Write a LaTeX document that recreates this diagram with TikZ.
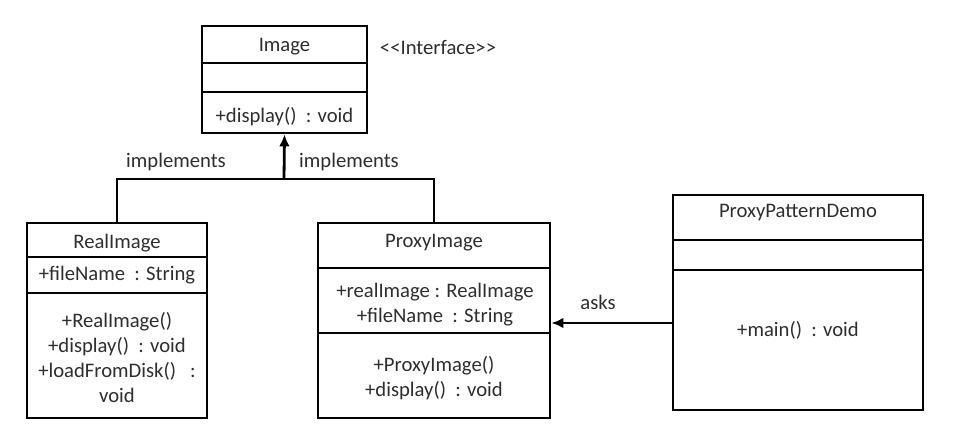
\documentclass[tikz,border=0pt]{standalone}
\usepackage{fontspec}
\setmainfont{Carlito}
\usetikzlibrary{arrows.meta}
\definecolor{txt}{HTML}{2E2E2E}
\begin{document}
\begin{tikzpicture}[x=0.75pt,y=-0.75pt,
  umlbox/.style={draw=black,line width=2.1pt,inner sep=0pt,fill=none},
  divider/.style={draw=black,line width=2.1pt},
  conn/.style={draw=black,line width=2.1pt},
  tip/.style={-{Latex[length=9pt,width=8pt]}},
  lbl/.style={text=txt,font=\fontsize{15.5}{18.75}\selectfont,inner sep=0pt,align=center}]
\useasboundingbox (0,0) rectangle (975,432);
% boxes
\node[umlbox,minimum width=123.75pt,minimum height=80.25pt] (img) at (284.5,79.5) {};
\node[umlbox,minimum width=135pt,minimum height=146.25pt] (real) at (117,320.5) {};
\node[umlbox,minimum width=174pt,minimum height=146.25pt] (proxy) at (434,320.5) {};
\node[umlbox,minimum width=187.5pt,minimum height=161.25pt] (demo) at (798,302.5) {};
% dividers
\coordinate (y63) at (0,63); \coordinate (y92) at (0,92);
\coordinate (y257) at (0,257); \coordinate (y293) at (0,293);
\coordinate (y268) at (0,268); \coordinate (y333) at (0,333);
\coordinate (y240) at (0,240); \coordinate (y270) at (0,270);
\draw[divider] (img.west|-y63) -- (img.east|-y63);
\draw[divider] (img.west|-y92) -- (img.east|-y92);
\draw[divider] (real.west|-y257) -- (real.east|-y257);
\draw[divider] (real.west|-y293) -- (real.east|-y293);
\draw[divider] (proxy.west|-y268) -- (proxy.east|-y268);
\draw[divider] (proxy.west|-y333) -- (proxy.east|-y333);
\draw[divider] (demo.west|-y240) -- (demo.east|-y240);
\draw[divider] (demo.west|-y270) -- (demo.east|-y270);
% texts
\node[lbl] (imgname) at (284.5,47) {Image};
\node[lbl] (imgops) at (284.5,117) {+display()\ \ : void};
\node[lbl] (iface) at (438,47) {<\kern0pt<Interface>\kern0pt>};
\node[lbl] (realname) at (117,243) {RealImage};
\node[lbl] (realattr) at (117,275) {+fileName\ \ : String};
\node[lbl] (realops) at (117,357.5) {+RealImage()\\+display()\ \ : void\\+loadFromDisk()\ \ \ :\\void};
\node[lbl] (proxyname) at (434,243) {ProxyImage};
\node[lbl] (proxyattr) at (435,304.5) {+realImage : RealImage\\+fileName\ \ : String};
\node[lbl] (proxyops) at (434,378) {+ProxyImage()\\+display()\ \ : void};
\node[lbl] (demoname) at (798,213) {ProxyPatternDemo};
\node[lbl] (demoops) at (798,330) {+main()\ \ : void};
% connectors
\coordinate (junc) at (284,179);
\coordinate (asksy) at (0,323);
\draw[conn] (real.north) |- (junc) -| (proxy.north);
\draw[conn,tip] (junc) -- (img.south);
\draw[conn,tip] (demo.west|-asksy) -- (proxy.east|-asksy);
\node[lbl] (impl1) at (176,162) {implements};
\node[lbl] (impl2) at (349,162) {implements};
\node[lbl] (asks) at (598,302) {asks};
\end{tikzpicture}
\end{document}
